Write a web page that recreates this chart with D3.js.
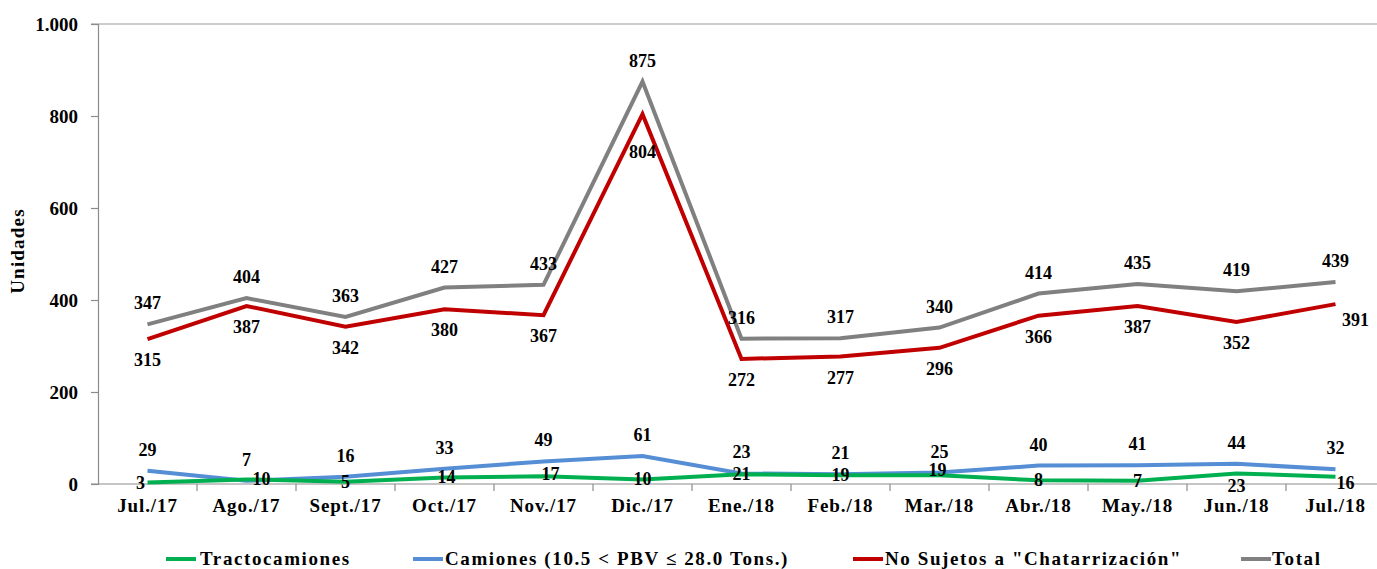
<!DOCTYPE html>
<html><head><meta charset="utf-8">
<script src="https://cdn.jsdelivr.net/npm/d3@7"></script>
<style>
html,body{margin:0;padding:0;background:#fff;}
svg{display:block;}
text{font-family:"Liberation Serif","Times New Roman",serif;font-weight:bold;fill:#000;}
</style></head>
<body>
<svg id="c" width="1377" height="569"></svg>
<script>
const categories = ["Jul./17","Ago./17","Sept./17","Oct./17","Nov./17","Dic./17","Ene./18","Feb./18","Mar./18","Abr./18","May./18","Jun./18","Jul./18"];
const tractocamiones = [3,10,5,14,17,10,21,19,19,8,7,23,16];
const camiones = [29,7,16,33,49,61,23,21,25,40,41,44,32];
const noSujetos = [315,387,342,380,367,804,272,277,296,366,387,352,391];
const total = [347,404,363,427,433,875,316,317,340,414,435,419,439];
const yTicks = [0,200,400,600,800,1000];
const seriesNames = ["Tractocamiones","Camiones (10.5 < PBV ≤ 28.0 Tons.)","No Sujetos a \"Chatarrización\"","Total"];

(function(){
const svg = d3.select("#c");
const pLeft = 98, pTop = 24, pBottom = 484, step = 99;
const x = d3.scaleBand().domain(categories).range([pLeft, pLeft + step*categories.length]).padding(0);
const y = d3.scaleLinear().domain([0,1000]).range([pBottom, pTop]);
const cx = c => x(c) + x.bandwidth()/2;
const loc = d3.formatLocale({decimal:",", thousands:".", grouping:[3], currency:["$",""]});
const fmt = loc.format(",d");

// top border
svg.append("line").attr("x1", pLeft-7).attr("x2", 1377).attr("y1", y(1000)).attr("y2", y(1000))
  .attr("stroke", "#bdbdbd").attr("stroke-width", 1.6);

// y axis
const ya = svg.append("g").attr("transform", `translate(${pLeft},0)`)
  .call(d3.axisLeft(y).tickValues(yTicks).tickSize(7).tickPadding(13).tickFormat(fmt));
ya.select(".domain").attr("stroke", "#8c8c8c").attr("stroke-width", 1.2);
ya.selectAll(".tick line").attr("stroke", "#8c8c8c").attr("stroke-width", 1.2);
ya.selectAll(".tick text").attr("font-size", 19).attr("font-family", "Liberation Serif").attr("font-weight", "bold").attr("fill", "#000");

// x axis
const xa = svg.append("g").attr("transform", `translate(0,${pBottom})`)
  .call(d3.axisBottom(x).tickSize(0).tickPadding(15));
xa.select(".domain").remove();
svg.append("line").attr("x1", pLeft-7).attr("x2", 1377).attr("y1", pBottom).attr("y2", pBottom)
  .attr("stroke", "#8c8c8c").attr("stroke-width", 1.2);
xa.selectAll(".tick text").attr("font-size", 19).attr("font-family", "Liberation Serif")
  .attr("font-weight", "bold").attr("fill", "#000").attr("letter-spacing", "0.9px");
svg.append("g").selectAll("line").data(categories)
  .join("line")
  .attr("x1", d => x(d) + x.bandwidth()).attr("x2", d => x(d) + x.bandwidth())
  .attr("y1", pBottom).attr("y2", pBottom+7).attr("stroke", "#8c8c8c").attr("stroke-width", 1.2);

// y title
svg.append("text").attr("transform", "translate(24,251) rotate(-90)")
  .attr("text-anchor", "middle").attr("font-size", 19).attr("letter-spacing", "1.2px").text("Unidades");

const colors = ["#00b050", "#558ed5", "#c00000", "#808080"];
const allSeries = [tractocamiones, camiones, noSujetos, total];
const line = d3.line().x((d,i) => cx(categories[i])).y(d => y(d));

[1,0,3,2].forEach(si => {
  svg.append("path").datum(allSeries[si]).attr("d", line)
    .attr("fill", "none").attr("stroke", colors[si]).attr("stroke-width", 4)
    .attr("stroke-linejoin", "miter");
});

function labels(vals, placer) {
  svg.append("g").selectAll("text").data(vals).join("text")
    .attr("text-anchor", "middle").attr("font-size", 18)
    .attr("x", (d,i) => cx(categories[i]) + placer(d,i).dx)
    .attr("y", (d,i) => y(d) + placer(d,i).dy + 6)
    .text(d => fmt(d));
}
const gNudge = {0:[-7,0], 1:[15,0], 3:[2,-1], 4:[7,-2], 8:[-2,-5], 11:[0,13], 12:[10,6]};
labels(tractocamiones, (d,i) => ({dx:(gNudge[i]||[0,0])[0], dy:(gNudge[i]||[0,0])[1]}));
labels(camiones, () => ({dx:0, dy:-21}));
labels(noSujetos, (d,i) => i === 5 ? {dx:0, dy:38} : (i === 12 ? {dx:20, dy:16} : {dx:0, dy:21}));
labels(total, () => ({dx:0, dy:-21}));

const legendPos = [[166,200],[413,445],[853,885],[1241,1272]];
const ly = 559;
seriesNames.forEach((n, i) => {
  svg.append("line").attr("x1", legendPos[i][0]).attr("x2", legendPos[i][0]+30)
    .attr("y1", ly).attr("y2", ly).attr("stroke", colors[i]).attr("stroke-width", 4);
  svg.append("text").attr("x", legendPos[i][1]).attr("y", ly+6).attr("font-size", 19)
    .attr("letter-spacing", "1.6px").text(n);
});
})();
</script>
</body></html>
